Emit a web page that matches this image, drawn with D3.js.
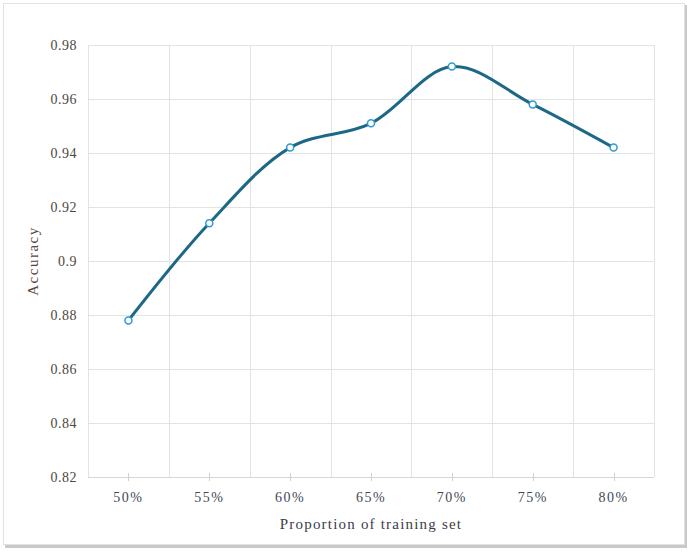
<!DOCTYPE html>
<html>
<head>
<meta charset="utf-8">
<script src="https://cdn.jsdelivr.net/npm/d3@7"></script>
<style>
  body { margin: 0; background: #fff; }
  svg { display: block; }
</style>
</head>
<body>
<svg id="chart" width="691" height="552"></svg>
<script>
// chart data
const categories = ["50%", "55%", "60%", "65%", "70%", "75%", "80%"];
const accuracy = [0.878, 0.914, 0.942, 0.951, 0.972, 0.958, 0.942];
const yTicks = [0.82, 0.84, 0.86, 0.88, 0.9, 0.92, 0.94, 0.96, 0.98];

const svg = d3.select("#chart");
const margin = { top: 45, right: 37, bottom: 75, left: 88 };
const width = +svg.attr("width") - margin.left - margin.right;
const height = +svg.attr("height") - margin.top - margin.bottom;

// outer frame with a soft shadow on the bottom/right
svg.append("rect")
  .attr("x", 5).attr("y", 5)
  .attr("width", 682).attr("height", 543)
  .attr("fill", "#c8c8c8");
svg.append("rect")
  .attr("x", 3.5).attr("y", 3.5)
  .attr("width", 681).attr("height", 541)
  .attr("fill", "#fff")
  .attr("stroke", "#e2e2e2");

const g = svg.append("g")
  .attr("transform", `translate(${margin.left},${margin.top})`);

const x = d3.scaleBand().domain(categories).range([0, width]);
const y = d3.scaleLinear().domain([0.82, 0.98]).range([height, 0]);

// horizontal gridlines
g.selectAll(".hgrid")
  .data(yTicks)
  .enter()
  .append("line")
  .attr("x1", 0).attr("x2", width)
  .attr("y1", d => Math.round(y(d)) + 0.5)
  .attr("y2", d => Math.round(y(d)) + 0.5)
  .attr("stroke", "#e3e3e3");

// vertical gridlines at category boundaries
const bounds = categories.map(c => x(c)).concat([width]);
g.selectAll(".vgrid")
  .data(bounds)
  .enter()
  .append("line")
  .attr("x1", d => Math.round(d) + 0.5).attr("x2", d => Math.round(d) + 0.5)
  .attr("y1", 0).attr("y2", height)
  .attr("stroke", "#e3e3e3");

// x axis: baseline + small ticks at category centres
g.append("line")
  .attr("x1", 0).attr("x2", width)
  .attr("y1", height + 0.5).attr("y2", height + 0.5)
  .attr("stroke", "#d6d6d6");
g.selectAll(".xtick")
  .data(categories)
  .enter()
  .append("line")
  .attr("x1", d => Math.round(x(d) + x.bandwidth() / 2) + 0.5)
  .attr("x2", d => Math.round(x(d) + x.bandwidth() / 2) + 0.5)
  .attr("y1", height - 4).attr("y2", height + 4)
  .attr("stroke", "#d0d0d0");

// tick labels
g.selectAll(".xlabel")
  .data(categories)
  .enter()
  .append("text")
  .attr("x", d => x(d) + x.bandwidth() / 2)
  .attr("y", height + 25)
  .attr("text-anchor", "middle")
  .style("font-family", "'Liberation Serif', serif")
  .style("font-size", "14px")
  .style("letter-spacing", "1.5px")
  .attr("fill", "#3f4a58")
  .text(d => d);

g.selectAll(".ylabel")
  .data(yTicks)
  .enter()
  .append("text")
  .attr("x", -11)
  .attr("y", d => y(d) + 5)
  .attr("text-anchor", "end")
  .style("font-family", "'Liberation Serif', serif")
  .style("font-size", "14px")
  .style("letter-spacing", "0.5px")
  .attr("fill", "#4e4840")
  .text(d => d3.format("")(d));

// axis titles
svg.append("text")
  .attr("x", margin.left + width / 2)
  .attr("y", 529)
  .attr("text-anchor", "middle")
  .style("font-family", "'Liberation Serif', serif")
  .style("font-size", "15px")
  .style("letter-spacing", "1.2px")
  .attr("fill", "#3c3c48")
  .text("Proportion of training set");

svg.append("text")
  .attr("transform", `translate(38,${margin.top + height / 2}) rotate(-90)`)
  .attr("text-anchor", "middle")
  .style("font-family", "'Liberation Serif', serif")
  .style("font-size", "15px")
  .style("letter-spacing", "1.5px")
  .attr("fill", "#5a4440")
  .text("Accuracy");

// smoothed line
const points = categories.map((c, i) => ({ cat: c, value: accuracy[i] }));
const line = d3.line()
  .x(d => x(d.cat) + x.bandwidth() / 2)
  .y(d => y(d.value))
  .curve(d3.curveCatmullRom.alpha(0.5));

g.append("path")
  .datum(points)
  .attr("d", line)
  .attr("fill", "none")
  .attr("stroke", "#1d6886")
  .attr("stroke-width", 3)
  .attr("stroke-linejoin", "round");

// markers
g.selectAll(".dot")
  .data(points)
  .enter()
  .append("circle")
  .attr("cx", d => x(d.cat) + x.bandwidth() / 2)
  .attr("cy", d => y(d.value))
  .attr("r", 3.5)
  .attr("fill", "#fff")
  .attr("stroke", "#2f9ad3")
  .attr("stroke-width", 1.5);
</script>
</body>
</html>
